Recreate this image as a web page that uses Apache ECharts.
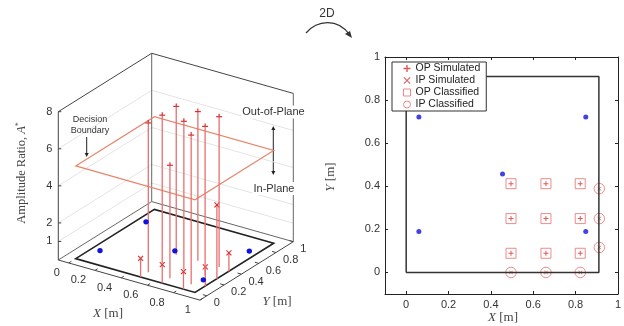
<!DOCTYPE html>
<html>
<head>
<meta charset="utf-8">
<script src="https://cdn.jsdelivr.net/npm/echarts@6/dist/echarts.min.js"></script>
<style>
  html, body { margin: 0; padding: 0; background: #fff; }
  #main { width: 624px; height: 326px; }
</style>
</head>
<body>
<div id="main"></div>
<script>
// sensor positions [m], same in both panels
const sensorX = [0.06, 0.848, 0.455, 0.06, 0.848];
const sensorY = [0.722, 0.722, 0.457, 0.19, 0.19];

// out-of-plane impacts (x, y, amplitude ratio)
const opX = [0.495, 0.66, 0.822, 0.495, 0.66, 0.822, 0.495, 0.66, 0.822];
const opY = [0.412, 0.412, 0.412, 0.25, 0.25, 0.25, 0.089, 0.089, 0.089];
const opA = [8.0, 8.05, 8.1, 8.0, 8.0, 8.05, 8.05, 6.1, 8.05];

// in-plane impacts
const ipX = [0.495, 0.66, 0.822, 0.912, 0.912, 0.912];
const ipY = [0, 0, 0, 0.116, 0.25, 0.389];
const ipA = [1.0, 1.0, 0.95, 1.05, 4.0, 1.0];

const plateSize = 0.91;
const decisionA = 5;

const ticksXY = [0, 0.2, 0.4, 0.6, 0.8, 1];
const ticksZ = [1, 2, 4, 6, 8];

const RED = '#d93030';
const PINK = '#e86f6f';
const SANS = '"Liberation Sans", Arial, sans-serif';
const SERIF = '"Liberation Serif", "Times New Roman", serif';

// ---- 3D view (orthographic projection into the hidden left grid) ----
const box = { xmin: -0.08, xmax: 1, ymin: -0.08, ymax: 1, zmax: 8 };
const view = { ox: 58.3, oy: 260, ex: [141.6, 40.1], ey: [93.4, -58.4], ez: -18.54 };

function proj(x, y, z) {
  const fx = (x - box.xmin) / (box.xmax - box.xmin);
  const fy = (y - box.ymin) / (box.ymax - box.ymin);
  return [view.ox + fx * view.ex[0] + fy * view.ey[0],
          view.oy + fx * view.ex[1] + fy * view.ey[1] + z * view.ez];
}

function lineEl(a, b, stroke, w) {
  return { type: 'line', shape: { x1: a[0], y1: a[1], x2: b[0], y2: b[1] }, style: { stroke: stroke, lineWidth: w } };
}
function textEl(t, x, y, align, font) {
  return { type: 'text', style: { text: t, x: x, y: y, fill: '#333', font: font,
    align: align, textAlign: align, verticalAlign: 'middle', textVerticalAlign: 'middle' } };
}

function renderBox(params, api) {
  const P = (x, y, z) => api.coord(proj(x, y, z));
  const k = [];
  const { xmin, xmax, ymin, ymax, zmax } = box;
  // back-wall grid
  ticksZ.forEach(z => {
    if (z === zmax) return;
    k.push(lineEl(P(xmin, ymin, z), P(xmin, ymax, z), '#e4e4e4', 1));
    k.push(lineEl(P(xmin, ymax, z), P(xmax, ymax, z), '#e4e4e4', 1));
  });
  // box edges
  const g = '#666';
  k.push(lineEl(P(xmin, ymin, 0), P(xmin, ymax, 0), g, 1));
  k.push(lineEl(P(xmin, ymax, 0), P(xmax, ymax, 0), g, 1));
  k.push(lineEl(P(xmin, ymax, 0), P(xmin, ymax, zmax), g, 1));
  k.push(lineEl(P(xmax, ymax, 0), P(xmax, ymax, zmax), g, 1));
  k.push(lineEl(P(xmin, ymin, zmax), P(xmin, ymax, zmax), '#444', 1));
  k.push(lineEl(P(xmin, ymax, zmax), P(xmax, ymax, zmax), '#444', 1));
  k.push(lineEl(P(xmin, ymin, 0), P(xmin, ymin, zmax), '#444', 1));
  k.push(lineEl(P(xmin, ymin, 0), P(xmax, ymin, 0), '#444', 1));
  k.push(lineEl(P(xmax, ymin, 0), P(xmax, ymax, 0), '#444', 1));
  // ticks + labels
  const f = '11px ' + SANS;
  ticksXY.forEach(v => {
    const a = P(v, ymin, 0);
    k.push(lineEl(a, P(v, ymin + 0.03, 0), '#444', 1));
    k.push(textEl(String(v), a[0] - 9, a[1] + 10, 'right', f));
    const b = P(xmax, v, 0);
    k.push(lineEl(b, P(xmax - 0.03, v, 0), '#444', 1));
    k.push(textEl(String(v), b[0] + 7, b[1] + 7.5, 'left', f));
  });
  ticksZ.forEach(z => {
    const a = P(xmin, ymin, z);
    k.push(lineEl(a, [a[0] + 3, a[1]], '#444', 1));
    k.push(textEl(String(z), a[0] - 6, a[1], 'right', f));
  });
  // plate and decision boundary
  const corners = [[0, 0], [plateSize, 0], [plateSize, plateSize], [0, plateSize]];
  k.push({ type: 'polygon', shape: { points: corners.map(c => P(c[0], c[1], 0)) },
    style: { fill: 'none', stroke: '#222', lineWidth: 1.6 } });
  k.push({ type: 'polygon', shape: { points: corners.map(c => P(c[0], c[1], decisionA)) },
    style: { fill: 'none', stroke: '#e8846a', lineWidth: 1.2 } });
  return { type: 'group', children: k };
}

function renderStem(isOP) {
  return function (params, api) {
    const x = api.value(0), y = api.value(1), a = api.value(2);
    const b = api.coord(proj(x, y, 0));
    const t = api.coord(proj(x, y, a));
    const k = [lineEl(b, t, PINK, 1.3)];
    if (isOP) {
      k.push(lineEl([t[0] - 3, t[1]], [t[0] + 3, t[1]], RED, 1.2));
      k.push(lineEl([t[0], t[1] - 3], [t[0], t[1]], RED, 1.2));
    } else {
      k.push(lineEl([t[0] - 2.5, t[1] - 2.5], [t[0] + 2.5, t[1] + 2.5], RED, 1.1));
      k.push(lineEl([t[0] + 2.5, t[1] - 2.5], [t[0] - 2.5, t[1] + 2.5], RED, 1.1));
    }
    return { type: 'group', children: k };
  };
}

function renderSensor(params, api) {
  const c = api.coord(proj(api.value(0), api.value(1), 0));
  return { type: 'circle', shape: { cx: c[0], cy: c[1], r: 2.7 }, style: { fill: '#1212e0' } };
}

const zip = (xs, ys, zs) => xs.map((x, i) => zs ? [x, ys[i], zs[i]] : [x, ys[i]]);

const plusPath = 'path://M4,0H6V4H10V6H6V10H4V6H0V4H4Z';
const crossPath = 'path://M1,0L5,4L9,0L10,1L6,5L10,9L9,10L5,6L1,10L0,9L4,5L0,1Z';
const platePts = [[0, 0], [plateSize, 0], [plateSize, plateSize], [0, plateSize], [0, 0]];

const axisTickCfg = { inside: true, length: 3, customValues: ticksXY, lineStyle: { color: '#222' } };
const axisLineCfg = { onZero: false, lineStyle: { color: '#222' } };
const labelCfg = { customValues: ticksXY, margin: 5, fontSize: 11, color: '#333', fontFamily: SANS };

const chart = echarts.init(document.getElementById('main'), null, { renderer: 'canvas' });
chart.setOption({
  animation: false,
  grid: [
    { left: 385, top: 57, width: 237, height: 237 },
    { left: 0, top: 0, width: 320, height: 326 }
  ],
  xAxis: [
    { gridIndex: 0, type: 'value', min: -0.1, max: 1, position: 'bottom',
      axisLine: axisLineCfg, axisTick: axisTickCfg, axisLabel: labelCfg, splitLine: { show: false } },
    { gridIndex: 0, type: 'value', min: -0.1, max: 1, position: 'top',
      axisLine: axisLineCfg, axisTick: axisTickCfg, axisLabel: { show: false }, splitLine: { show: false } },
    { gridIndex: 1, type: 'value', min: 0, max: 320, show: false }
  ],
  yAxis: [
    { gridIndex: 0, type: 'value', min: -0.1, max: 1, position: 'left',
      axisLine: axisLineCfg, axisTick: axisTickCfg, axisLabel: labelCfg, splitLine: { show: false } },
    { gridIndex: 0, type: 'value', min: -0.1, max: 1, position: 'right',
      axisLine: axisLineCfg, axisTick: axisTickCfg, axisLabel: { show: false }, splitLine: { show: false } },
    { gridIndex: 1, type: 'value', min: 0, max: 326, inverse: true, show: false }
  ],
  legend: {
    left: 392, top: 62, orient: 'vertical', itemGap: 1, itemWidth: 7, itemHeight: 7, itemTextGap: 7,
    padding: [1, 6, 1, 11], borderColor: '#333', borderWidth: 1, backgroundColor: '#fff',
    textStyle: { fontSize: 10.5, color: '#222', fontFamily: SANS, lineHeight: 10 },
    selectedMode: false, z: 20,
    data: [
      { name: 'OP Simulated' },
      { name: 'IP Simulated' },
      { name: 'OP Classified', itemStyle: { color: 'rgba(0,0,0,0)', borderColor: PINK, borderWidth: 1 } },
      { name: 'IP Classified', itemStyle: { color: 'rgba(0,0,0,0)', borderColor: PINK, borderWidth: 1 } }
    ]
  },
  graphic: [
    { type: 'text', x: 327, y: 14, style: { text: '2D', font: '12px ' + SANS, fill: '#333', align: 'center', verticalAlign: 'middle' } },
    { type: 'bezierCurve', shape: { x1: 306, y1: 33, cpx1: 318, cpy1: 19, cpx2: 338, cpy2: 19, x2: 349, y2: 34 },
      style: { stroke: '#333', lineWidth: 1.2, fill: 'none' } },
    { type: 'polygon', shape: { points: [[352, 38], [345, 34], [350, 31]] }, style: { fill: '#333' } },
    { type: 'text', x: 90, y: 125, z: 50, style: { text: 'Decision\nBoundary', font: '9px ' + SANS, fill: '#333', align: 'center', verticalAlign: 'middle', lineHeight: 11 } },
    { type: 'line', shape: { x1: 86.7, y1: 137, x2: 86.7, y2: 154 }, style: { stroke: '#222', lineWidth: 1 } },
    { type: 'polygon', shape: { points: [[84.7, 153], [88.7, 153], [86.7, 157]] }, style: { fill: '#222' } },
    { type: 'text', x: 273.5, y: 112, z: 50, style: { text: 'Out-of-Plane', font: '11px ' + SANS, fill: '#333', align: 'center', verticalAlign: 'middle',
        backgroundColor: '#fff', padding: [1, 1] } },
    { type: 'text', x: 274, y: 188.5, z: 50, style: { text: 'In-Plane', font: '11px ' + SANS, fill: '#333', align: 'center', verticalAlign: 'middle',
        backgroundColor: '#fff', padding: [1, 1] } },
    { type: 'line', shape: { x1: 273.3, y1: 128, x2: 273.3, y2: 173 }, style: { stroke: '#222', lineWidth: 1 } },
    { type: 'polygon', shape: { points: [[271.3, 130], [275.3, 130], [273.3, 126]] }, style: { fill: '#222' } },
    { type: 'polygon', shape: { points: [[271.3, 171], [275.3, 171], [273.3, 175]] }, style: { fill: '#222' } },
    { type: 'text', x: 22, y: 173, rotation: Math.PI / 2,
      style: { text: '{n|Amplitude Ratio, }{i|A}{s|*}', font: '12.5px ' + SERIF, fill: '#444', align: 'center', verticalAlign: 'middle',
        rich: { n: { fontSize: 12.5, fontFamily: SERIF, fill: '#444' }, i: { fontSize: 12.5, fontStyle: 'italic', fontFamily: SERIF, fill: '#444' },
                s: { fontSize: 8, fontFamily: SERIF, fill: '#444', verticalAlign: 'top', lineHeight: 14 } } } },
    { type: 'text', x: 108, y: 314, style: { text: '{i|X} [m]', font: '13px ' + SERIF, fill: '#444', align: 'center', verticalAlign: 'middle',
        rich: { i: { fontStyle: 'italic', fontSize: 13, fontFamily: SERIF, fill: '#444' } } } },
    { type: 'text', x: 277, y: 302, style: { text: '{i|Y} [m]', font: '13px ' + SERIF, fill: '#444', align: 'center', verticalAlign: 'middle',
        rich: { i: { fontStyle: 'italic', fontSize: 13, fontFamily: SERIF, fill: '#444' } } } },
    { type: 'text', x: 503, y: 318, style: { text: '{i|X} [m]', font: '13px ' + SERIF, fill: '#444', align: 'center', verticalAlign: 'middle',
        rich: { i: { fontStyle: 'italic', fontSize: 13, fontFamily: SERIF, fill: '#444' } } } },
    { type: 'text', x: 331, y: 177, rotation: Math.PI / 2, style: { text: '{i|Y} [m]', font: '13px ' + SERIF, fill: '#444', align: 'center', verticalAlign: 'middle',
        rich: { i: { fontStyle: 'italic', fontSize: 13, fontFamily: SERIF, fill: '#444' } } } }
  ],
  series: [
    // ---- left: 3D view ----
    { type: 'custom', name: 'box3d', xAxisIndex: 2, yAxisIndex: 2, silent: true, clip: false,
      data: [[0, 0]], renderItem: renderBox, z: 1 },
    { type: 'custom', name: 'ip3d', xAxisIndex: 2, yAxisIndex: 2, silent: true, clip: false,
      data: zip(ipX, ipY, ipA), renderItem: renderStem(false), z: 2 },
    { type: 'custom', name: 'op3d', xAxisIndex: 2, yAxisIndex: 2, silent: true, clip: false,
      data: zip(opX, opY, opA), renderItem: renderStem(true), z: 2 },
    { type: 'custom', name: 'sensor3d', xAxisIndex: 2, yAxisIndex: 2, silent: true, clip: false,
      data: zip(sensorX, sensorY), renderItem: renderSensor, z: 3 },
    // ---- right: 2D view ----
    { type: 'scatter', name: 'sensors', xAxisIndex: 0, yAxisIndex: 0, silent: true,
      data: zip(sensorX, sensorY), symbol: 'circle', symbolSize: 5, itemStyle: { color: '#1212e0' } },
    { type: 'scatter', name: 'OP Classified', xAxisIndex: 0, yAxisIndex: 0, silent: true,
      data: zip(opX, opY), symbol: 'rect', symbolSize: 10,
      itemStyle: { color: 'rgba(0,0,0,0)', borderColor: PINK, borderWidth: 1 } },
    { type: 'scatter', name: 'IP Classified', xAxisIndex: 0, yAxisIndex: 0, silent: true,
      data: zip(ipX, ipY), symbol: 'circle', symbolSize: 10.5,
      itemStyle: { color: 'rgba(0,0,0,0)', borderColor: PINK, borderWidth: 1 } },
    { type: 'line', name: 'plate', xAxisIndex: 0, yAxisIndex: 0, silent: true,
      data: platePts, symbol: 'none', lineStyle: { color: '#333', width: 1.5 } },
    { type: 'scatter', name: 'OP Simulated', xAxisIndex: 0, yAxisIndex: 0, silent: true,
      data: zip(opX, opY), symbol: plusPath, symbolSize: 5, itemStyle: { color: RED } },
    { type: 'scatter', name: 'IP Simulated', xAxisIndex: 0, yAxisIndex: 0, silent: true,
      data: zip(ipX, ipY), symbol: crossPath, symbolSize: 4, itemStyle: { color: RED } }
  ]
});
</script>
</body>
</html>
